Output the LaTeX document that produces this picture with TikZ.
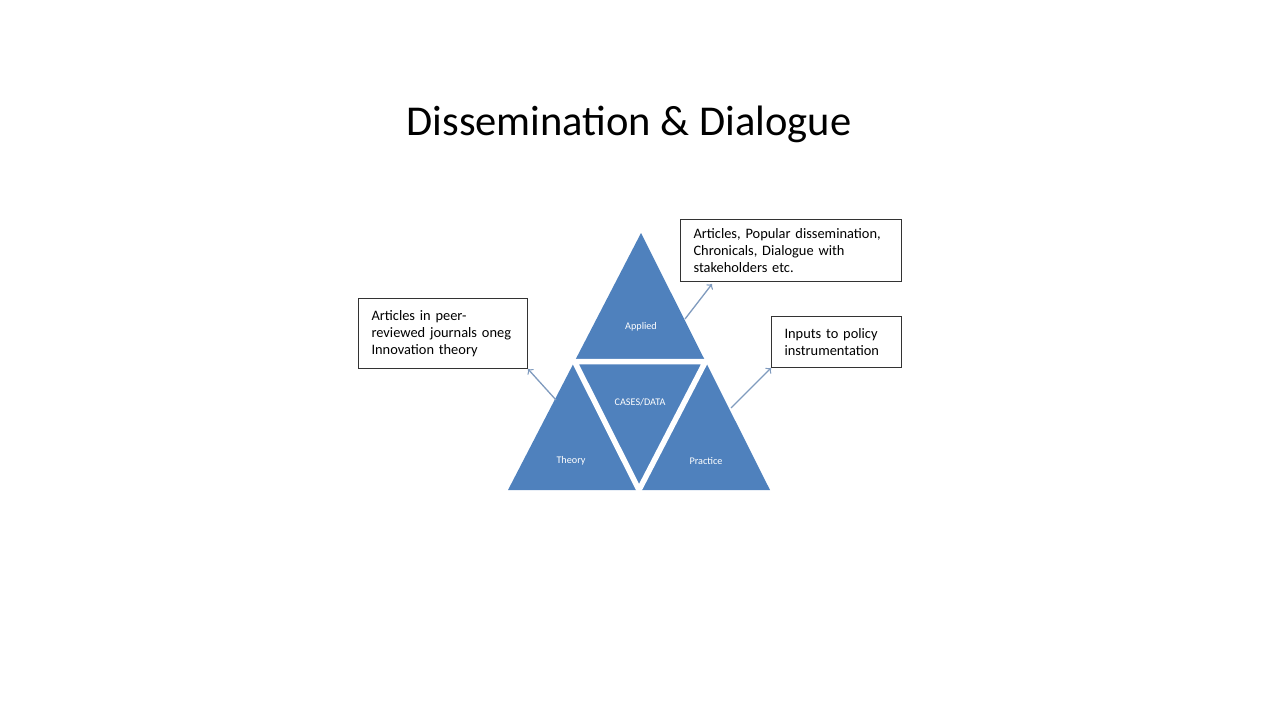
\documentclass[tikz,border=0pt]{standalone}
\usepackage{fontspec}
\setmainfont{Carlito}
\usepackage{xcolor}
\definecolor{triblue}{RGB}{79,129,189}
\definecolor{arrowblue}{RGB}{128,155,190}

\begin{document}
\begin{tikzpicture}[x=0.02cm, y=-0.02cm,
		box/.style={draw=black!80, line width=0.6pt, rectangle, anchor=north west, inner xsep=0.26cm, align=left, font=\fontsize{8.2}{9.6}\selectfont},
		tag/.style={text=white, font=\fontsize{5.8}{7}\selectfont},
		conn/.style={->, line width=0.75pt, arrowblue}]
		\useasboundingbox (0,0) rectangle (1280,720);

		% Title
		\node (title) at (629,124) {\fontsize{24.2}{28}\selectfont Dissemination \& Dialogue};

		% Triangle corners
		\coordinate (top) at (641,233);
		\coordinate (bl) at (508,490);
		\coordinate (br) at (770,490);
		\coordinate (ml) at (574.5,361.5);
		\coordinate (mr) at (705.5,361.5);
		\coordinate (mb) at (639,490);

		% Triangles, cut by white gaps
		\fill[triblue] (top) -- (bl) -- (br) -- cycle;
		\draw[white, line width=0.11cm] (ml) -- (mr) -- (mb) -- cycle;

		\node[tag] (applied) at (641,327) {Applied};
		\node[tag] (cases) at (640,402) {CASES/DATA};
		\node[tag] (theory) at (571,461) {Theory};
		\node[tag] (practice) at (706,461) {Practice};

		% Boxes
		\node[box, minimum width=3.38cm, minimum height=1.4cm, text width=2.86cm] (lit) at (358,298) {Articles in peer-\\reviewed journals oneg\\Innovation theory};
		\node[box, minimum width=4.42cm, minimum height=1.24cm, text width=3.9cm] (popular) at (680,219) {Articles, Popular dissemination,\\Chronicals, Dialogue with\\stakeholders etc.};
		\node[box, minimum width=2.6cm, minimum height=1.02cm, text width=2.08cm] (policy) at (771,316) {Inputs to policy\\instrumentation};

		% Arrows out of the triangle
		\coordinate (theoryout) at (556,400);
		\coordinate (appliedout) at (685,319);
		\coordinate (practiceout) at (731,408);
		\draw[conn] (theoryout) -- (lit.south east);
		\draw[conn] (appliedout) -- ([xshift=0.64cm, yshift=-0.04cm]popular.south west);
		\draw[conn] (practiceout) -- (policy.south west);
	\end{tikzpicture}
\end{document}
